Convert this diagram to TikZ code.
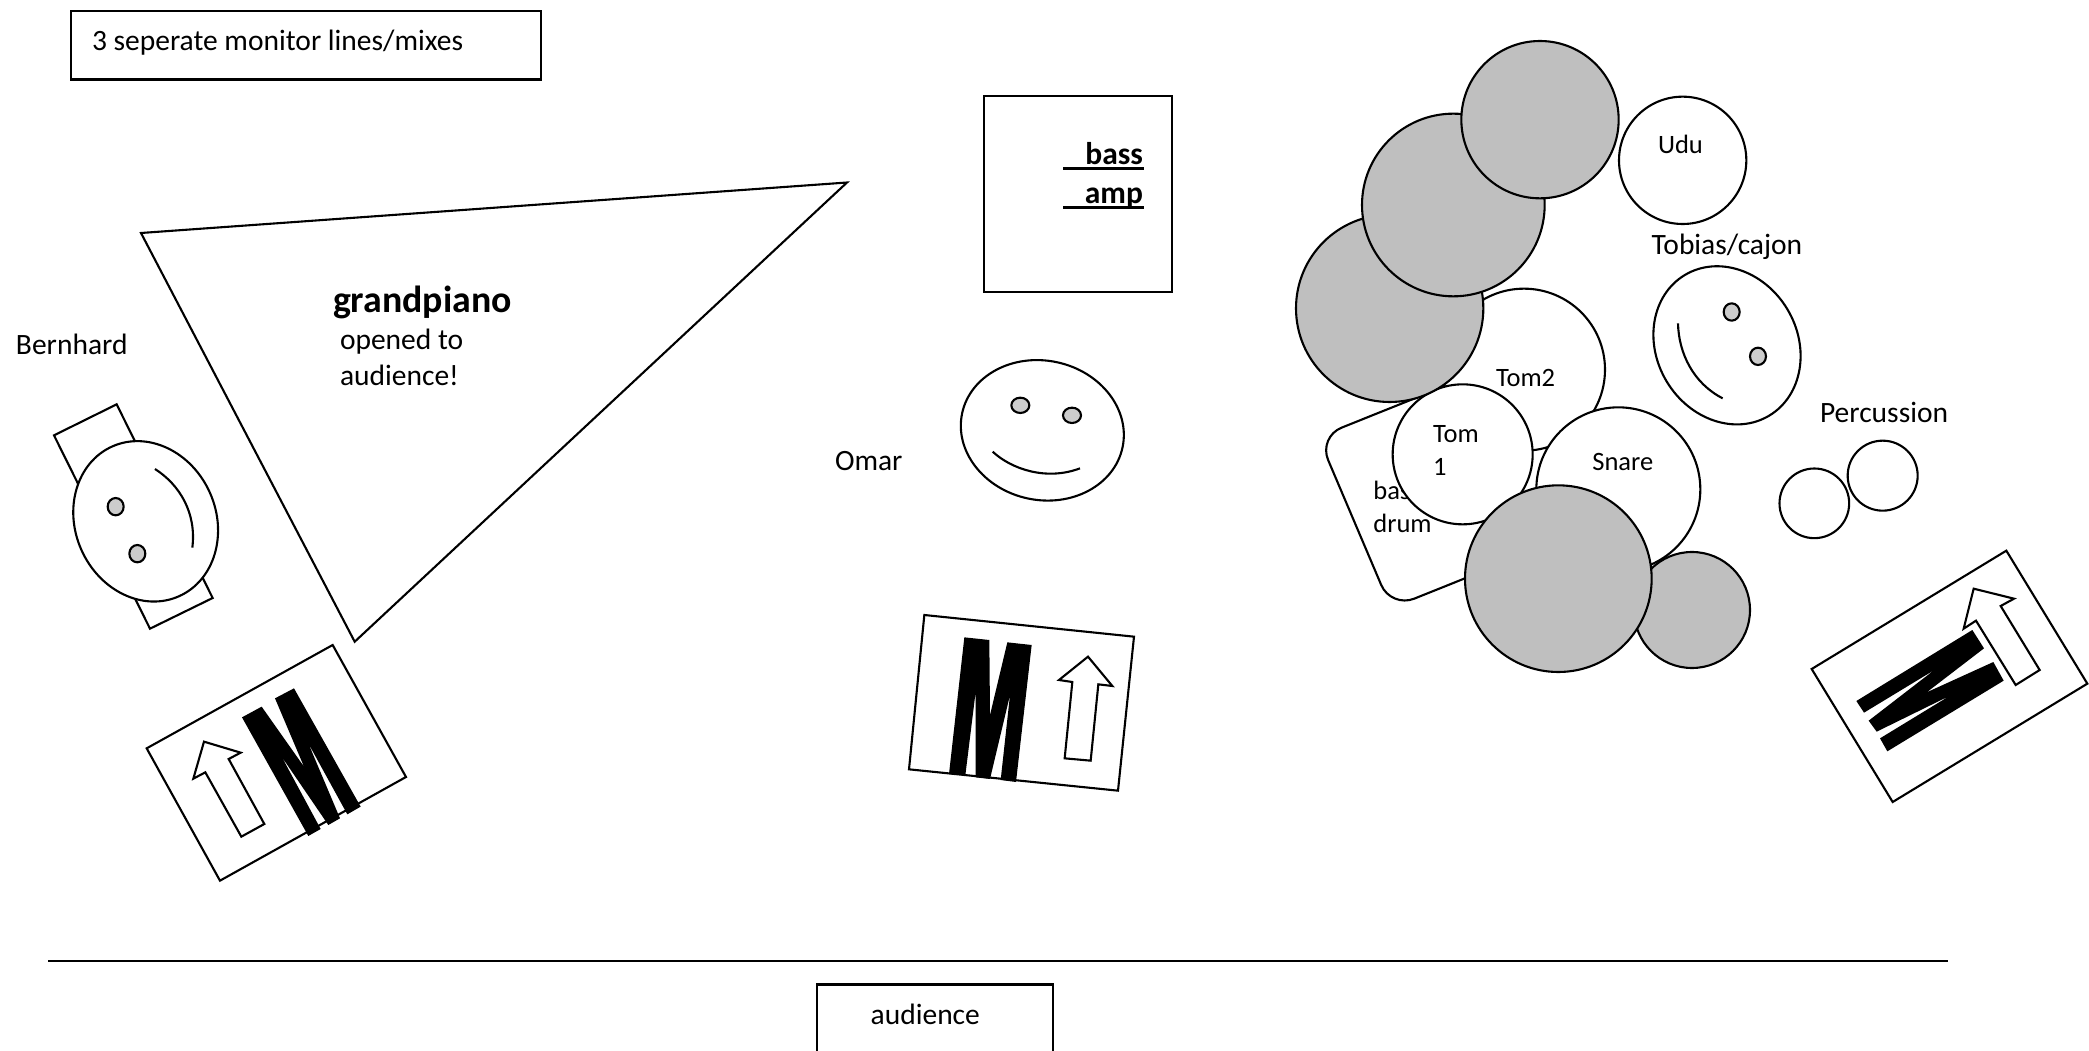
\documentclass[tikz,border=0pt]{standalone}
\usepackage{fontspec}
\setmainfont{Carlito}
\tikzset{
  x=1pt,y=-1pt,
  lw/.style={line width=2.1pt,line join=miter},
  solidshape/.style={lw,draw=black,fill=white},
  cym/.style={lw,draw=black,fill=cymgray},
  eye/.style={lw,draw=black,fill=eyegray},
  mletter/.style={fill=black,draw=none},
  lbl/.style={anchor=base west,inner sep=0pt,outer sep=0pt,text=black,xshift=-1pt,yshift=-1.5pt,font=\fontsize{29.5}{34}\selectfont},
  drumlbl/.style={lbl,font=\fontsize{26.5}{31}\selectfont},
  boldlbl/.style={anchor=base east,inner sep=0pt,outer sep=0pt,text=black,yshift=-1.5pt,font=\bfseries\fontsize{31.5}{36}\selectfont},
}
\definecolor{cymgray}{HTML}{BFBFBF}
\definecolor{eyegray}{HTML}{CCCCCC}
\begin{document}
\begin{tikzpicture}
\useasboundingbox (0,0) rectangle (2089,1051);
\fill[white] (0,0) rectangle (2089,1051);

% title box
\draw[solidshape] (71.4,10.7) rectangle (541,79.5);
\node[lbl] (title) at (93,49) {3 seperate monitor lines/mixes};

% piano
\draw[solidshape] (141,233) -- (847,182.5) -- (354.7,641.7) -- cycle;
\node[lbl,font=\bfseries\fontsize{37.8}{42}\selectfont] (grand) at (334,311) {grandpiano};
\node[lbl] (opened) at (341,348) {opened to};
\node[lbl] (aud2) at (341,384) {audience!};
\node[lbl] (bern) at (17,353) {Bernhard};

% Bernhard
\begin{scope}[shift={(0,380)},scale=1/3]
  \draw[solidshape] (162,166) -- (350,73) -- (638,654) -- (450,746) -- cycle;
  \draw[solidshape,shift={(437,424)},rotate=-66] (0,0) ellipse [x radius=246,y radius=211];
  \draw[eye] (347,380) ellipse [x radius=24,y radius=26];
  \draw[eye] (412,521) ellipse [x radius=24,y radius=26];
  \draw[lw] (465,267) .. controls (540,315) and (590,400) .. (577,503);
  % monitor 1
  \draw[solidshape] (440,1105) -- (998,795) -- (1218,1191) -- (660,1502) -- cycle;
  \draw[solidshape] (612,1085) -- (722,1118) -- (686,1137) -- (793,1332) -- (724,1370) -- (616,1177) -- (580,1196) -- cycle;
  \fill[mletter] (726,1012) -- (785,980) -- (912,1160) -- (825,955) -- (882,925) -- (1082,1280) -- (1042,1303) -- (925,1090) -- (1020,1315) -- (985,1335) -- (845,1130) -- (962,1347) -- (925,1368) -- cycle;
\end{scope}

% bass amp
\draw[solidshape] (984,96) rectangle (1172,292);
\node[boldlbl] (bass) at (1143,163.3) {bass};
\node[boldlbl] (amp) at (1143,201.7) {amp};
\draw[line width=2.8pt] (1063.3,168.3) -- (1144,168.3);
\draw[line width=2.8pt] (1063.3,207.3) -- (1144,207.3);

% Omar
\node[lbl] (omar) at (836,469) {Omar};
\begin{scope}[shift={(820,341)},scale=1/3]
  \draw[solidshape,shift={(667,268)},rotate=-12] (0,0) ellipse [x radius=246,y radius=209];
  \draw[eye] (601,193) ellipse [x radius=27,y radius=23];
  \draw[eye] (756,223) ellipse [x radius=27,y radius=23];
  \draw[lw] (518,332) .. controls (575,385) and (680,420) .. (780,382);
\end{scope}

% monitor 2
\begin{scope}[shift={(880,580)},scale=1/3]
  \draw[solidshape] (133,105) -- (762,170) -- (714,632) -- (87,568) -- cycle;
  \draw[solidshape] (624,230) -- (697,318) -- (655,313) -- (632,542) -- (554,535) -- (577,306) -- (537,300) -- cycle;
  \fill[mletter] (253,172) -- (328,180) -- (330,405) -- (382,187) -- (455,195) -- (408,606) -- (362,600) -- (390,345) -- (330,597) -- (287,592) -- (287,335) -- (256,586) -- (207,582) -- cycle;
\end{scope}

% drum kit
\begin{scope}[shift={(1280,271)},scale=1/3]
  \draw[solidshape,rounded corners=25pt] (115,498) -- (333,1011) -- (794,826) -- (576,313) -- cycle;
  \node[drumlbl] (bassdrum) at (283,682) {bass};
  \node[drumlbl] (drum) at (283,779) {drum};
  \draw[solidshape] (732,296) circle [radius=243];
  \node[drumlbl] (tomtwo) at (651,342) {Tom2};
  \draw[solidshape] (1015,655) circle [radius=246];
  \node[drumlbl] (snare) at (940,594) {Snare};
  \draw[solidshape] (548,550) circle [radius=210];
  \node[drumlbl] (tomone) at (462,509) {Tom};
  \node[drumlbl] (tomonea) at (462,609) {1};
  \draw[cym] (1236,1017) circle [radius=174];
  \draw[cym] (835,923) circle [radius=280];
\end{scope}
\begin{scope}[shift={(1280,21)},scale=1/3]
  \draw[cym] (329,862) circle [radius=281];
  \draw[cym] (520,552) circle [radius=274];
  \draw[cym] (780,296) circle [radius=236];
  \draw[solidshape] (1208,418) circle [radius=191];
  \node[drumlbl] (udu) at (1137,394) {Udu};
\end{scope}

% Tobias + percussion
\begin{scope}[shift={(1600,220)},scale=1/3]
  \node[lbl] (tobias) at (158,100) {Tobias/cajon};
  \draw[solidshape,shift={(381,376)},rotate=-59] (0,0) ellipse [x radius=246,y radius=211];
  \draw[eye] (395,276) ellipse [x radius=24,y radius=26];
  \draw[eye] (474,409) ellipse [x radius=24,y radius=26];
  \draw[lw] (234,310) .. controls (236,400) and (280,490) .. (368,535);
  \node[lbl] (perc) at (663,604) {Percussion};
  \draw[solidshape] (643,850) circle [radius=104.5];
  \draw[solidshape] (848,767) circle [radius=105];
\end{scope}

% monitor 3
\begin{scope}[shift={(1780,530)},scale=1/3]
  \draw[solidshape] (95,417) -- (679,62) -- (922,461) -- (338,816) -- cycle;
  \draw[solidshape] (581,176) -- (702,206) -- (662,228) -- (779,420) -- (707,465) -- (588,272) -- (551,296) -- cycle;
  \fill[mletter] (229,513) -- (577,300) -- (612,355) -- (440,487) -- (640,396) -- (671,452) -- (322,664) -- (300,625) -- (510,497) -- (290,605) -- (266,572) -- (463,420) -- (252,548) -- cycle;
\end{scope}

% audience
\coordinate (stageL) at (48,960.7);
\coordinate (stageR) at (1947.6,960.7);
\draw[lw] (stageL) -- (stageR);
\draw[lw] (816.7,1060) -- (816.7,984.5) -- (1053,984.5) -- (1053,1060);
\node[lbl] (aud) at (871.7,1022.7) {audience};
\end{tikzpicture}
\end{document}
